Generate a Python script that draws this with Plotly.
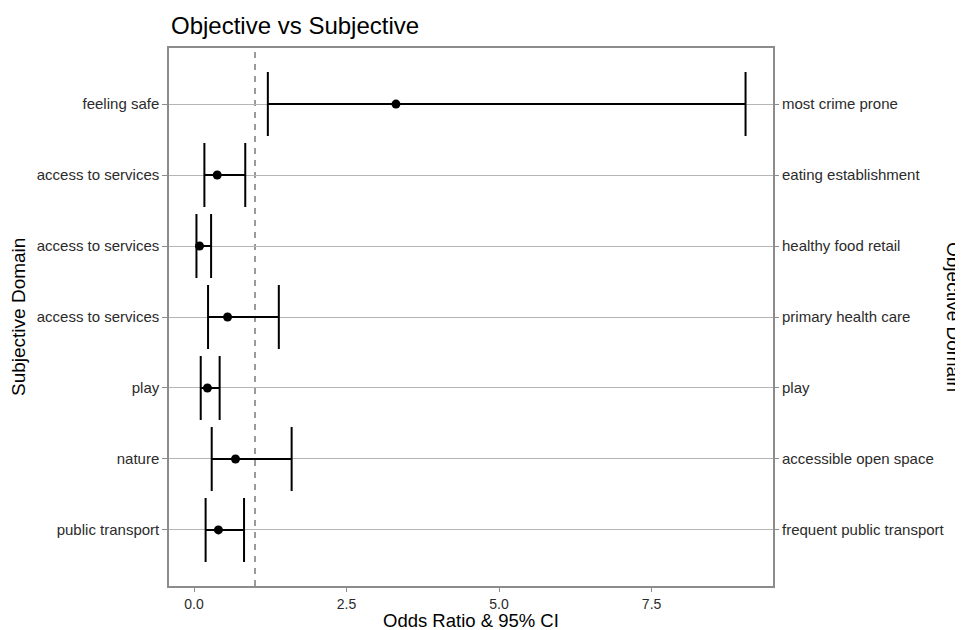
import plotly.graph_objects as go

# Data (top row first)
subjective = ["feeling safe", "access to services", "access to services", "access to services",
              "play", "nature", "public transport"]
objective = ["most crime prone", "eating establishment", "healthy food retail", "primary health care",
             "play", "accessible open space", "frequent public transport"]
odds_ratio = [3.31, 0.38, 0.09, 0.55, 0.22, 0.68, 0.40]
ci_lower = [1.21, 0.17, 0.04, 0.23, 0.11, 0.29, 0.19]
ci_upper = [9.04, 0.84, 0.28, 1.39, 0.42, 1.60, 0.82]
x_ticks = [0, 2.5, 5, 7.5]
x_tick_labels = ["0.0", "2.5", "5.0", "7.5"]
ref_line = 1.0

rows = list(range(len(subjective)))
err_plus = [u - p for u, p in zip(ci_upper, odds_ratio)]
err_minus = [p - l for p, l in zip(odds_ratio, ci_lower)]

FONT = "Liberation Sans, Arial, Helvetica, sans-serif"
TICKCOL = "#2b2b2b"
BORDER = "#8c8c8c"
GRID = "#b5b5b5"

fig = go.Figure()
fig.add_trace(go.Scatter(
    x=odds_ratio, y=rows, mode="markers",
    marker=dict(color="black", size=9),
    error_x=dict(type="data", symmetric=False, array=err_plus, arrayminus=err_minus,
                 color="black", thickness=2, width=32),
    showlegend=False, hoverinfo="x+y",
))
# invisible trace to activate the right axis
fig.add_trace(go.Scatter(x=odds_ratio, y=rows, mode="markers", yaxis="y2",
                         marker=dict(opacity=0), showlegend=False, hoverinfo="skip"))

xmin = min(ci_lower)
xmax = max(ci_upper)
pad = 0.05 * (xmax - xmin)
xr = [xmin - pad, xmax + pad]
yr = [len(rows) - 1 + 0.79, -0.79]

fig.add_shape(type="line", x0=ref_line, x1=ref_line, y0=0, y1=1, xref="x", yref="paper",
              line=dict(color="#7a7a7a", width=1.5, dash="6px,6px"), layer="below")

fig.update_layout(
    width=955, height=622,
    margin=dict(l=161, r=190, t=40, b=44),
    paper_bgcolor="white", plot_bgcolor="white",
    font=dict(family=FONT, size=15, color=TICKCOL),
    xaxis=dict(range=xr, tickvals=x_ticks, ticktext=x_tick_labels, showgrid=False,
               zeroline=False, showline=True, linecolor=BORDER, linewidth=1.5, mirror=True,
               ticks="outside", ticklen=4, tickcolor=BORDER, tickwidth=1.2,
               tickfont=dict(size=14, color=TICKCOL, family=FONT)),
    yaxis=dict(range=yr, tickvals=rows, ticktext=subjective, showgrid=True, gridcolor=GRID,
               gridwidth=1.4, zeroline=False, showline=True, linecolor=BORDER, linewidth=1.5,
               mirror=True, ticks="outside", ticklen=5, tickcolor=BORDER, tickwidth=1.2,
               tickfont=dict(size=15, color=TICKCOL, family=FONT)),
    yaxis2=dict(range=yr, tickvals=rows, ticktext=objective, overlaying="y", side="right",
                showgrid=False, zeroline=False, showline=False,
                ticks="outside", ticklen=5, tickcolor=BORDER, tickwidth=1.2,
                tickfont=dict(size=15, color=TICKCOL, family=FONT)),
    annotations=[
        dict(text="Objective vs Subjective", x=0, y=1, xref="paper", yref="paper",
             xanchor="left", yanchor="middle", yshift=23, showarrow=False,
             font=dict(size=24, color="black", family=FONT)),
        dict(text="Odds Ratio & 95% CI", x=0.5, y=0, xref="paper", yref="paper",
             xanchor="center", yanchor="middle", yshift=-34, showarrow=False,
             font=dict(size=18.5, color="black", family=FONT)),
        dict(text="Subjective Domain", x=0, y=0.5, xref="paper", yref="paper",
             xanchor="center", yanchor="middle", xshift=-151, textangle=-90, showarrow=False,
             font=dict(size=19, color="black", family=FONT)),
        dict(text="Objective Domain", x=1, y=0.5, xref="paper", yref="paper",
             xanchor="center", yanchor="middle", xshift=181, textangle=90, showarrow=False,
             font=dict(size=19, color="black", family=FONT)),
    ],
)

fig.write_html("out.html")
